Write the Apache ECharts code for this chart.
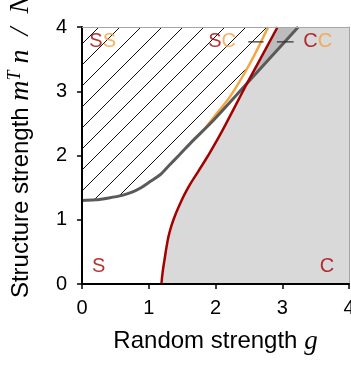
<!DOCTYPE html>
<html>
<head>
<meta charset="utf-8">
<script src="https://cdn.jsdelivr.net/npm/echarts@6/dist/echarts.min.js"></script>
<style>html,body{margin:0;padding:0;background:#fff}#c{width:351px;height:367px}</style>
</head>
<body>
<div id="c"></div>
<script>
// Axis ticks
const xTicks = [0, 1, 2, 3, 4];
const yTicks = [0, 1, 2, 3, 4];

// Red boundary (g, m)
const redG = [1.19, 1.21, 1.24, 1.27, 1.31, 1.37, 1.47, 1.59, 1.74, 1.89, 2.03, 2.16, 2.41, 2.47, 2.67, 2.93];
const redM = [0.00, 0.20, 0.40, 0.60, 0.80, 1.00, 1.25, 1.50, 1.75, 2.00, 2.25, 2.50, 3.00, 3.12, 3.50, 4.00];

// Dark gray boundary (g, m)
const grayG = [0.00, 0.20, 0.40, 0.60, 0.75, 0.87, 1.00, 1.17, 1.30, 1.45, 1.67, 1.97, 2.47, 3.24];
const grayM = [1.30, 1.31, 1.34, 1.38, 1.43, 1.49, 1.58, 1.70, 1.84, 2.00, 2.24, 2.55, 3.12, 4.00];

// Orange boundary (g, m)
const orangeG = [1.67, 1.80, 2.00, 2.22, 2.52, 2.79];
const orangeM = [2.24, 2.37, 2.63, 2.92, 3.44, 4.00];

// Crossing of red and gray
const crossM = 3.12;

// Region labels: position (g, m) and text parts
const labelG = [0.31, 2.10, 3.53, 0.25, 3.67];
const labelM = [3.78, 3.77, 3.77, 0.28, 0.27];
const labelText = ['{r|S}{o|S}', '{r|S}{o|C}', '{r|C}{o|C}', '{r|S}', '{r|C}'];

// Leader segments (g0, g1) at m
const leaderG0 = [2.49, 2.92];
const leaderG1 = [2.72, 3.17];
const leaderM = 3.77;

const zip = (a, b) => a.map((v, i) => [v, b[i]]);
const red = zip(redG, redM);
const gray = zip(grayG, grayM);
const orange = zip(orangeG, orangeM);

// polygons built from the arrays
const shadePoly = red.concat([[4, 4], [4, 0]]);
const wedgePoly = red.filter(p => p[1] >= crossM).concat(gray.filter(p => p[1] >= crossM).reverse());
const hatchPoly = [[0, 4]].concat(gray.filter(p => p[0] < orangeG[0])).concat(orange);

// hatch pattern
const S = 21;
const cv = document.createElement('canvas');
cv.width = S; cv.height = S;
const cx = cv.getContext('2d');
cx.strokeStyle = '#111';
cx.lineWidth = 1;
for (let k = -1; k <= 1; k++) {
  cx.beginPath();
  cx.moveTo(k * S, S);
  cx.lineTo(k * S + S, 0);
  cx.stroke();
}

function polySeries(poly, fill, z) {
  return {
    type: 'custom', silent: true, z: z, data: [0],
    renderItem: (params, api) => ({
      type: 'polygon',
      shape: { points: poly.map(p => api.coord(p)) },
      style: { fill: fill, stroke: null }
    })
  };
}

const chart = echarts.init(document.getElementById('c'), null, { renderer: 'canvas' });
const sans = "'Liberation Sans', Arial, sans-serif";
const serif = "'Liberation Serif', 'DejaVu Serif', serif";

const labelRich = {
  r: { color: '#a50000', fontSize: 20, fontFamily: sans },
  o: { color: '#f4a040', fontSize: 20, fontFamily: sans }
};

chart.setOption({
  animation: false,
  grid: { left: 82, right: 2, top: 27, bottom: 83, containLabel: false, outerBoundsMode: 'none' },
  xAxis: [{
    type: 'value', min: 0, max: 4, interval: 1, z: 10,
    axisLine: { show: true, onZero: false, lineStyle: { color: '#000', width: 2 } },
    axisTick: { show: true, length: 5, lineStyle: { color: '#000', width: 1.5 } },
    axisLabel: { color: '#000', fontSize: 20, fontFamily: sans, margin: 14,
      formatter: v => xTicks.includes(v) ? String(v) : '' },
    splitLine: { show: false },
    name: '{t|Random strength }{m|g}',
    nameLocation: 'middle', nameGap: 44,
    nameTextStyle: { rich: {
      t: { fontSize: 24, fontFamily: sans, color: '#000' },
      m: { fontSize: 27, fontFamily: serif, fontStyle: 'italic', color: '#000' }
    } }
  }, {
    type: 'value', min: 0, max: 4, position: 'top', z: 10,
    axisLine: { show: true, onZero: false, lineStyle: { color: '#a6a6a6', width: 1 } },
    axisTick: { show: false }, axisLabel: { show: false }, splitLine: { show: false }
  }],
  yAxis: [{
    type: 'value', min: 0, max: 4, interval: 1, z: 10,
    axisLine: { show: true, onZero: false, lineStyle: { color: '#000', width: 2 } },
    axisTick: { show: true, length: 5, lineStyle: { color: '#000', width: 1.5 } },
    axisLabel: { color: '#000', fontSize: 20, fontFamily: sans, margin: 15,
      formatter: v => yTicks.includes(v) ? String(v) : '' },
    splitLine: { show: false },
    name: '{t|Structure strength }{m|m}{s|T}{m| n  /  N}',
    nameLocation: 'middle', nameGap: 46, nameRotate: 90,
    nameTextStyle: { lineHeight: 30, rich: {
      t: { fontSize: 24, fontFamily: sans, color: '#000', lineHeight: 30, padding: [0, 0, 0, 18] },
      m: { fontSize: 28, fontFamily: serif, fontStyle: 'italic', color: '#000', lineHeight: 30 },
      s: { fontSize: 18, fontFamily: serif, fontStyle: 'italic', color: '#000', lineHeight: 18, verticalAlign: 'top' }
    } }
  }, {
    type: 'value', min: 0, max: 4, position: 'right', z: 10,
    axisLine: { show: true, onZero: false, lineStyle: { color: '#a6a6a6', width: 1 } },
    axisTick: { show: false }, axisLabel: { show: false }, splitLine: { show: false }
  }],
  series: [
    polySeries(shadePoly, '#d9d9d9', 1),
    polySeries(wedgePoly, '#bcbcbc', 2),
    polySeries(hatchPoly, { image: cv, repeat: 'repeat' }, 3),
    { type: 'line', data: orange, showSymbol: false, smooth: 0.3, z: 4,
      lineStyle: { color: '#f7a541', width: 2.5 } },
    { type: 'line', data: gray, showSymbol: false, smooth: 0.3, z: 5,
      lineStyle: { color: '#5a5a5a', width: 3 } },
    { type: 'line', data: red, showSymbol: false, smooth: 0.5, z: 6,
      lineStyle: { color: '#a50000', width: 2.5 } },
    { type: 'line', data: [[leaderG0[0], leaderM], [leaderG1[0], leaderM]], showSymbol: false, z: 7,
      lineStyle: { color: '#333', width: 1.3 } },
    { type: 'line', data: [[leaderG0[1], leaderM], [leaderG1[1], leaderM]], showSymbol: false, z: 7,
      lineStyle: { color: '#333', width: 1.3 } },
    { type: 'scatter', symbolSize: 0, z: 8,
      data: labelG.map((g, i) => ({ value: [g, labelM[i]], txt: labelText[i] })),
      label: { show: true, position: 'inside', formatter: p => p.data.txt, rich: labelRich } }
  ]
});
</script>
</body>
</html>
